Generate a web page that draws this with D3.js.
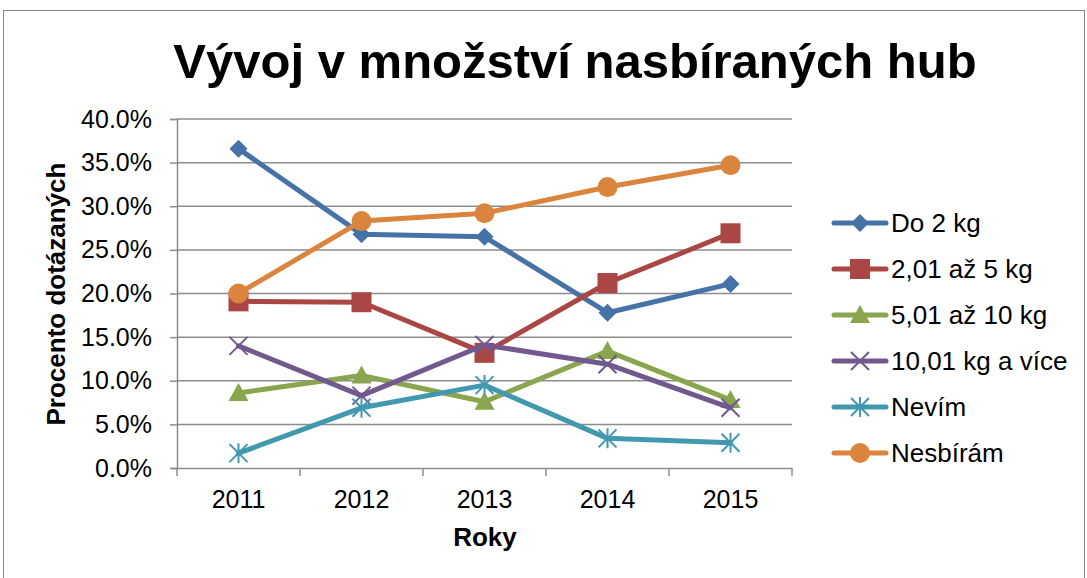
<!DOCTYPE html>
<html><head><meta charset="utf-8">
<script src="https://cdn.jsdelivr.net/npm/d3@7"></script>
<style>body{margin:0;background:#fff}svg{display:block}text{font-family:"Liberation Sans",Arial,sans-serif}</style>
</head><body><svg id="c" width="1087" height="578"></svg>
<script>
const years = ["2011","2012","2013","2014","2015"];
const seriesNames = ["Do 2 kg","2,01 až 5 kg","5,01 až 10 kg","10,01 kg a více","Nevím","Nesbírám"];
const doDva = [36.6, 26.8, 26.5, 17.8, 21.1];
const dvaPet = [19.1, 19.0, 13.2, 21.2, 26.9];
const petDeset = [8.6, 10.6, 7.6, 13.4, 7.8];
const desetVice = [14.0, 8.3, 14.1, 11.9, 6.9];
const nevim = [1.7, 6.9, 9.5, 3.4, 2.9];
const nesbiram = [20.0, 28.3, 29.2, 32.2, 34.7];
const yTicks = [0,5,10,15,20,25,30,35,40];
const colors = ["#4572A7","#AA4643","#89A54E","#71588F","#4198AF","#DB843D"];
const markers = ["diamond","square","triangle","x","star","circle"];
const allValues = [doDva, dvaPet, petDeset, desetVice, nevim, nesbiram];

const svg = d3.select("#c");
svg.append("rect").attr("x",3.5).attr("y",10.5).attr("width",1081).attr("height",580)
  .attr("fill","#fff").attr("stroke","#8a8a8a").attr("stroke-width",1);

const x = d3.scaleBand().domain(years).range([177,792]);
const y = d3.scaleLinear().domain([0,40]).range([468,119]);

svg.append("text").attr("x",575).attr("y",78).attr("text-anchor","middle")
  .attr("font-size",49).attr("font-weight","bold").attr("fill","#000").text("Vývoj v množství nasbíraných hub");

// gridlines
svg.append("g").selectAll("line").data(yTicks.filter(d=>d>0)).join("line")
  .attr("x1",177).attr("x2",792).attr("y1",d=>y(d)).attr("y2",d=>y(d))
  .attr("stroke","#8c8c8c").attr("stroke-width",1.5);

const ya = svg.append("g").attr("transform","translate(177,0)")
  .call(d3.axisLeft(y).tickValues(yTicks).tickSize(7).tickPadding(18).tickFormat(d=>d.toFixed(1)+"%"));
ya.select(".domain").attr("stroke","#8c8c8c").attr("stroke-width",1.5);
ya.selectAll(".tick line").attr("stroke","#8c8c8c").attr("stroke-width",1.5);
ya.selectAll("text").attr("font-size",25).attr("fill","#000").attr("font-family","Liberation Sans, Arial, sans-serif");

const xa = svg.append("g").attr("transform","translate(0,468)")
  .call(d3.axisBottom(x).tickSize(0).tickPadding(22));
xa.select(".domain").attr("stroke","#8c8c8c").attr("stroke-width",1.5);
xa.selectAll("text").attr("font-size",25).attr("fill","#000").attr("font-family","Liberation Sans, Arial, sans-serif");
svg.append("g").selectAll("line").data(years.concat(["end"])).join("line")
  .attr("x1",(d,i)=>177+i*x.bandwidth()).attr("x2",(d,i)=>177+i*x.bandwidth())
  .attr("y1",468).attr("y2",476).attr("stroke","#8c8c8c").attr("stroke-width",1.5);

svg.append("text").attr("x",485).attr("y",546).attr("text-anchor","middle")
  .attr("font-size",26).attr("font-weight","bold").text("Roky");
svg.append("text").attr("transform","translate(65,294) rotate(-90)").attr("text-anchor","middle")
  .attr("font-size",26).attr("font-weight","bold").text("Procento dotázaných");

function drawMarker(g, type, cx, cy, color){
  if(type==="diamond"){
    g.append("path").attr("d",`M${cx},${cy-9}L${cx+9},${cy}L${cx},${cy+9}L${cx-9},${cy}Z`).attr("fill",color);
  } else if(type==="square"){
    g.append("rect").attr("x",cx-10).attr("y",cy-10).attr("width",20).attr("height",20).attr("fill",color);
  } else if(type==="triangle"){
    g.append("path").attr("d",`M${cx},${cy-10}L${cx+10},${cy+8}L${cx-10},${cy+8}Z`).attr("fill",color);
  } else if(type==="x"){
    g.append("path").attr("d",`M${cx-9},${cy-9}L${cx+9},${cy+9}M${cx-9},${cy+9}L${cx+9},${cy-9}`).attr("stroke",color).attr("stroke-width",2);
  } else if(type==="star"){
    g.append("path").attr("d",`M${cx-9},${cy-9}L${cx+9},${cy+9}M${cx-9},${cy+9}L${cx+9},${cy-9}M${cx},${cy-10}L${cx},${cy+10}`).attr("stroke",color).attr("stroke-width",2);
  } else {
    g.append("circle").attr("cx",cx).attr("cy",cy).attr("r",10).attr("fill",color);
  }
}

const line = d3.line().x((d,i)=>x(years[i])+x.bandwidth()/2).y(d=>y(d));
allValues.forEach((vals,si)=>{
  const g = svg.append("g");
  g.append("path").datum(vals).attr("d",line).attr("fill","none").attr("stroke",colors[si])
    .attr("stroke-width",5).attr("stroke-linejoin","round").attr("stroke-linecap","round");
  vals.forEach((v,i)=>drawMarker(g, markers[si], x(years[i])+x.bandwidth()/2, y(v), colors[si]));
});

// legend
const lg = svg.append("g");
seriesNames.forEach((n,i)=>{
  const cy = 223 + i*46;
  lg.append("line").attr("x1",834).attr("x2",886).attr("y1",cy).attr("y2",cy)
    .attr("stroke",colors[i]).attr("stroke-width",5).attr("stroke-linecap","round");
  drawMarker(lg, markers[i], 860, cy, colors[i]);
  lg.append("text").attr("x",891).attr("y",cy+9).attr("font-size",26).text(n);
});
</script></body></html>
